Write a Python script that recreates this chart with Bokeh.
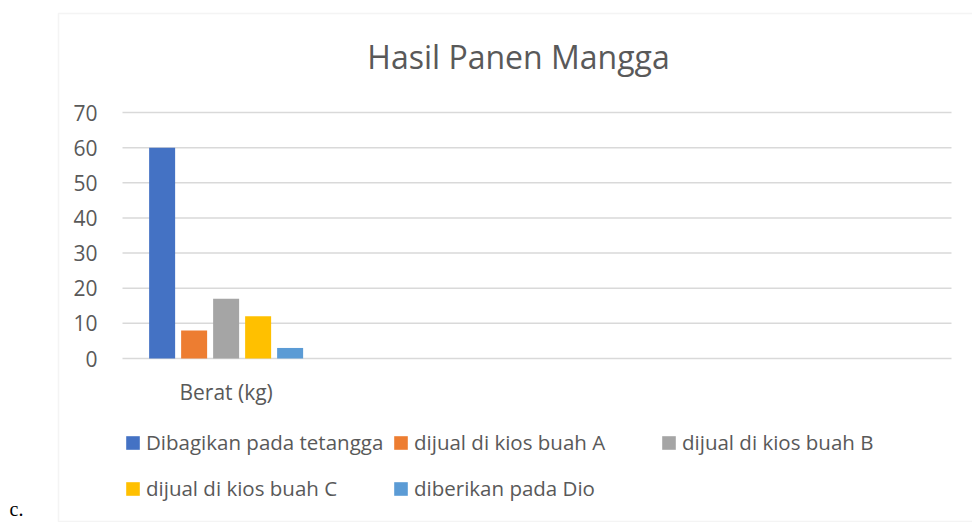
from bokeh.plotting import figure
from bokeh.models import (Range1d, FixedTicker, Legend, LegendItem, LinearAxis,
                          Label, BoxAnnotation, ColumnDataSource)
from bokeh.embed import file_html
from bokeh.resources import INLINE

# ---- data ----
categories = ["Berat (kg)"]
series_names = ["Dibagikan pada tetangga", "dijual di kios buah A", "dijual di kios buah B",
                "dijual di kios buah C", "diberikan pada Dio"]
series_values = [60, 8, 17, 12, 3]
series_colors = ["#4472C4", "#ED7D31", "#A5A5A5", "#FFC000", "#5B9BD5"]
y_ticks = [0, 10, 20, 30, 40, 50, 60, 70]
title_text = "Hasil Panen Mangga"

TXT = "#595959"
FONT = "Open Sans"
GRID = "#D9D9D9"

# plot area: 4 category slots (only the first one used); ranges padded so that the
# frame covers the whole canvas and the plot area sits at 122..951 x 112..358 px
n_slots = 4
W, H = 972, 522
px_x = (951 - 122) / n_slots
px_y = (358 - 112) / 70
x_range = Range1d(-122 / px_x, n_slots + (W - 951) / px_x)
y_range = Range1d(-(H - 358) / px_y, 70 + 112 / px_y)

p = figure(width=W, height=H, x_range=x_range, y_range=y_range,
           x_axis_location=None, y_axis_location=None,
           output_backend="svg", toolbar_location=None, min_border=0)
p.outline_line_color = None
p.xgrid.visible = False
p.ygrid.visible = False
p.background_fill_color = "white"
p.border_fill_color = "white"

# horizontal gridlines across the plot area
p.segment(x0=[0] * len(y_ticks), x1=[n_slots] * len(y_ticks), y0=y_ticks, y1=y_ticks,
          line_color=GRID, line_width=1.5)

pitch = 32 / px_x
bw = 26 / px_x
renderers = []
for i, (name, val, col) in enumerate(zip(series_names, series_values, series_colors)):
    src = ColumnDataSource(dict(x=[0.5 + (i - 2) * pitch], top=[val]))
    r = p.vbar(x="x", top="top", width=bw, source=src, color=col, line_color=None)
    renderers.append((name, r))

# axes fixed inside the frame
yaxis = LinearAxis(fixed_location=0, ticker=FixedTicker(ticks=y_ticks))
yaxis.axis_line_color = None
yaxis.major_tick_line_color = None
yaxis.minor_tick_line_color = None
yaxis.major_label_text_font = FONT
yaxis.major_label_text_font_size = "21px"
yaxis.major_label_text_color = TXT
yaxis.major_label_standoff = 19
p.add_layout(yaxis, "left")

xaxis = LinearAxis(fixed_location=0, ticker=FixedTicker(ticks=[0.5]),
                   major_label_overrides={0.5: categories[0]})
xaxis.axis_line_color = None
xaxis.major_tick_line_color = None
xaxis.minor_tick_line_color = None
xaxis.major_label_text_font = FONT
xaxis.major_label_text_font_size = "21px"
xaxis.major_label_text_color = TXT
xaxis.major_label_standoff = 13
p.add_layout(xaxis, "below")

# legend (equal-width columns like the original)
items = [LegendItem(label=n, renderers=[r]) for n, r in renderers]
leg = Legend(items=items, ncols=3, location=(124, 11), orientation="horizontal",
             glyph_width=17, glyph_height=17, label_standoff=5, label_width=246,
             label_height=46, spacing=0, padding=0, margin=0,
             border_line_color=None, background_fill_alpha=0,
             label_text_font=FONT, label_text_font_size="20.5px", label_text_color=TXT)
p.add_layout(leg, "center")

# title
p.add_layout(Label(x=518, y=H - 56, x_units="screen", y_units="screen", text=title_text,
                   text_align="center", text_baseline="middle", text_font=FONT,
                   text_font_size="32px", text_color=TXT))

# chart border
p.add_layout(BoxAnnotation(left=58, right=W + 20, top=H - 13, bottom=H - 521,
                           left_units="screen", right_units="screen",
                           top_units="screen", bottom_units="screen",
                           fill_alpha=0, line_color=GRID, line_width=1.5))

p.add_layout(Label(x=9, y=H - 497, x_units="screen", y_units="screen", text="c.",
                   text_align="left", text_baseline="top", text_font="Liberation Serif",
                   text_font_size="20px", text_color="black"))

open("out.html", "w").write(file_html(p, INLINE))
